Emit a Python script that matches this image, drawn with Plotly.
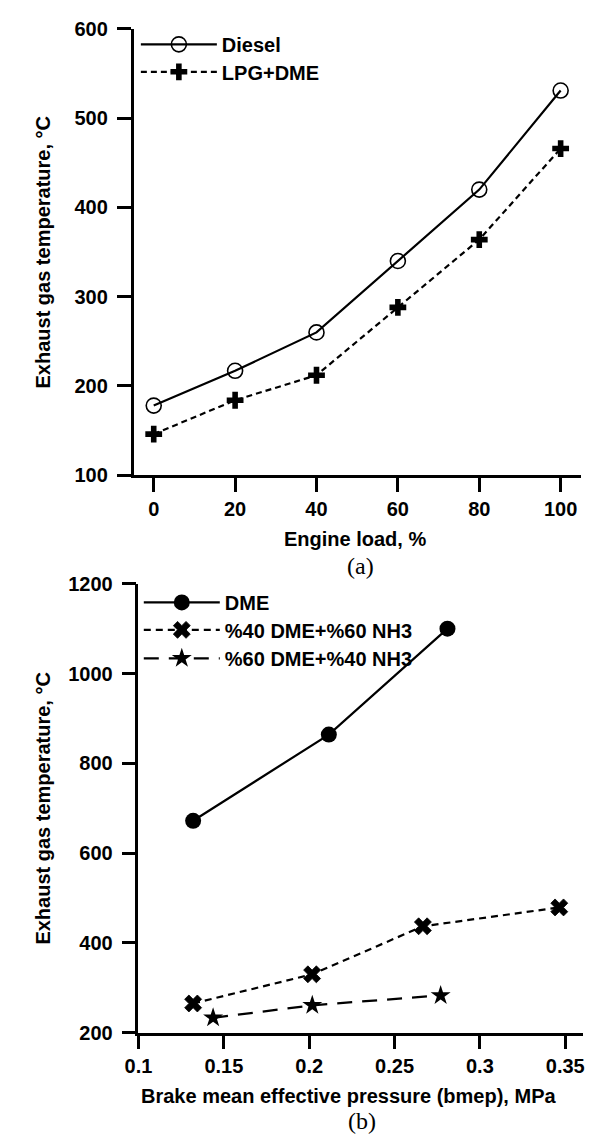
import plotly.graph_objects as go

# ---- data: panel (a) ----
load_pct = [0, 20, 40, 60, 80, 100]
diesel_temp = [178, 217, 260, 340, 420, 531]
lpg_dme_temp = [146, 184, 212, 288, 364, 466]

# ---- data: panel (b) ----
dme_bmep = [0.132, 0.2115, 0.281]
dme_temp = [672, 864, 1100]
d40_bmep = [0.132, 0.2017, 0.2666, 0.3465]
d40_temp = [265, 330, 437, 479]
d60_bmep = [0.1437, 0.2018, 0.277]
d60_temp = [233, 261, 283]

W, H = 598, 1144
BLACK = "black"
FONT = "Liberation Sans"

fig = go.Figure()

fig.add_trace(go.Scatter(
    x=load_pct, y=diesel_temp, name="Diesel", mode="lines+markers",
    line=dict(color=BLACK, width=2.2),
    marker=dict(symbol="circle-open", size=15, color=BLACK, line=dict(width=1.6, color=BLACK)),
    xaxis="x", yaxis="y", legend="legend"))
fig.add_trace(go.Scatter(
    x=load_pct, y=lpg_dme_temp, name="LPG+DME", mode="lines+markers",
    line=dict(color=BLACK, width=2.2, dash="6px,4px"),
    marker=dict(symbol="cross", size=14, color=BLACK),
    xaxis="x", yaxis="y", legend="legend2"))

fig.add_trace(go.Scatter(
    x=dme_bmep, y=dme_temp, name="DME", mode="lines+markers",
    line=dict(color=BLACK, width=2.2),
    marker=dict(symbol="circle", size=16, color=BLACK),
    xaxis="x2", yaxis="y2", legend="legend3"))
fig.add_trace(go.Scatter(
    x=d40_bmep, y=d40_temp, name="%40 DME+%60 NH3", mode="lines+markers",
    line=dict(color=BLACK, width=2.2, dash="7px,5px"),
    marker=dict(symbol="x", size=15, color=BLACK, line=dict(width=0.8, color=BLACK)),
    xaxis="x2", yaxis="y2", legend="legend4"))
fig.add_trace(go.Scatter(
    x=d60_bmep, y=d60_temp, name="%60 DME+%40 NH3", mode="lines+markers",
    line=dict(color=BLACK, width=2.2, dash="15px,10px"),
    marker=dict(symbol="star", size=15, color=BLACK),
    xaxis="x2", yaxis="y2", legend="legend5"))

tickfont = dict(family=FONT, size=20, color=BLACK, weight="bold")
axcommon = dict(showline=True, linecolor=BLACK, linewidth=2.6, ticks="outside",
                ticklen=14, tickwidth=2.6, tickcolor=BLACK, showgrid=False,
                zeroline=False, tickfont=tickfont, mirror=False, fixedrange=True)

def px_x(p):
    return p / W

def px_y(p):
    return 1 - p / H

legfont = dict(family=FONT, size=20, color=BLACK, weight="bold")

def leg(xp, yp):
    return dict(x=px_x(xp), y=px_y(yp), xanchor="left", yanchor="middle",
                bgcolor="rgba(0,0,0,0)", borderwidth=0, font=legfont,
                itemwidth=76, tracegroupgap=0)

fig.update_layout(
    width=W, height=H, margin=dict(l=0, r=0, t=0, b=0),
    paper_bgcolor="white", plot_bgcolor="white", showlegend=True,
    xaxis=dict(domain=[px_x(122.7), px_x(581.7)], range=[-4.94, 105.03],
               tickvals=[0, 20, 40, 60, 80, 100], anchor="y", **axcommon),
    yaxis=dict(domain=[px_y(473.3), px_y(18.3)], range=[100, 600],
               tickvals=[100, 200, 300, 400, 500, 600], anchor="x",
               ticklabelstandoff=5, **axcommon),
    xaxis2=dict(domain=[px_x(127.7), px_x(584)], range=[0.1, 0.3606],
                tickvals=[0.1, 0.15, 0.2, 0.25, 0.3, 0.35],
                ticktext=["0.1", "0.15", "0.2", "0.25", "0.3", "0.35"],
                anchor="y2", **axcommon),
    yaxis2=dict(domain=[px_y(1041.7), px_y(584)], range=[200, 1200],
                tickvals=[200, 400, 600, 800, 1000, 1200], anchor="x2",
                ticklabelstandoff=5, **axcommon),
    legend=leg(125, 34),
    legend2=leg(125, 62),
    legend3=leg(128, 603),
    legend4=leg(128, 631),
    legend5=leg(128, 660),
)

titlefont = dict(family=FONT, size=20, color=BLACK, weight="bold")
serif = dict(family="Liberation Serif", size=24, color=BLACK)
ann = [
    dict(text="Exhaust gas temperature, °C", x=px_x(30), y=px_y(246), textangle=-90,
         font=titlefont),
    dict(text="Engine load, %", x=px_x(350), y=px_y(538), font=titlefont),
    dict(text="(a)", x=px_x(355), y=px_y(566), font=serif),
    dict(text="Exhaust gas temperature, °C", x=px_x(30), y=px_y(813), textangle=-90,
         font=titlefont),
    dict(text="Brake mean effective pressure (bmep), MPa", x=px_x(343), y=px_y(1106),
         font=titlefont),
    dict(text="(b)", x=px_x(357), y=px_y(1132), font=serif),
]
for a in ann:
    fig.add_annotation(xref="paper", yref="paper", showarrow=False,
                       xanchor="center", yanchor="middle", **a)

fig.write_html("out.html")
